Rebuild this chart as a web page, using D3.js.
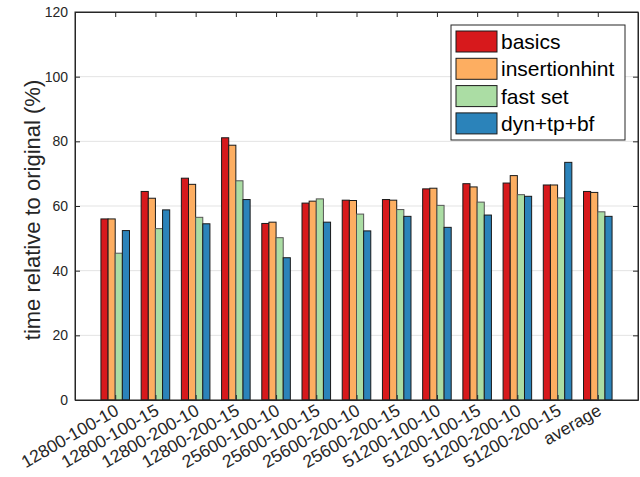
<!DOCTYPE html>
<html>
<head>
<meta charset="utf-8" />
<script src="https://d3js.org/d3.v7.min.js"></script>
<style>
  body { margin: 0; background: #fff; }
  text { font-family: "Liberation Sans", Arial, sans-serif; fill: #262626; }
</style>
</head>
<body>
<div id="chart"></div>
<script>
// categories and series values (time relative to original, %)
var categories = ["12800-100-10", "12800-100-15", "12800-200-10", "12800-200-15",
  "25600-100-10", "25600-100-15", "25600-200-10", "25600-200-15",
  "51200-100-10", "51200-100-15", "51200-200-10", "51200-200-15", "average"];
var seriesNames = ["basics", "insertionhint", "fast set", "dyn+tp+bf"];
var basics        = [56.0, 64.5, 68.6, 81.1, 54.6, 60.9, 61.8, 62.0, 65.3, 66.9, 67.1, 66.5, 64.5];
var insertionhint = [56.0, 62.4, 66.7, 78.8, 55.0, 61.5, 61.7, 61.8, 65.5, 65.9, 69.4, 66.5, 64.2];
var fastSet       = [45.4, 53.0, 56.5, 67.8, 50.2, 62.2, 57.5, 58.9, 60.2, 61.2, 63.5, 62.5, 58.2];
var dynTpBf       = [52.4, 58.8, 54.5, 62.0, 44.0, 55.0, 52.3, 56.8, 53.4, 57.2, 63.0, 73.5, 56.8];
var yTicks = [0, 20, 40, 60, 80, 100, 120];
var colors = ["#d7191c", "#fdae61", "#abdda4", "#2b83ba"];

var series = [basics, insertionhint, fastSet, dynTpBf];

var W = 640, H = 477;
var margin = {top: 12, right: 2, bottom: 77, left: 75};
var width = W - margin.left - margin.right,
    height = H - margin.top - margin.bottom;

var svg = d3.select("#chart").append("svg")
    .attr("width", W).attr("height", H);
var g = svg.append("g")
    .attr("transform", "translate(" + margin.left + "," + margin.top + ")");

// x in category units, like matlab (xlim 0..14)
var x = d3.scaleLinear().domain([0, categories.length + 1]).range([0, width]);
var y = d3.scaleLinear().domain([0, 120]).range([height, 0]);

// grid
g.selectAll(".grid").data(yTicks.slice(1, -1)).enter().append("line")
  .attr("x1", 0).attr("x2", width)
  .attr("y1", function(d) { return y(d); }).attr("y2", function(d) { return y(d); })
  .attr("stroke", "#e3e3e3").attr("stroke-width", 1);

// bars
var groupW = 0.71, barW = groupW / 4;
series.forEach(function(vals, s) {
  g.selectAll(".bar" + s).data(vals).enter().append("rect")
    .attr("x", function(d, i) { return x(i + 1 - groupW / 2 + s * barW); })
    .attr("y", function(d) { return y(d); })
    .attr("width", x(barW) - x(0))
    .attr("height", function(d) { return y(0) - y(d); })
    .attr("fill", colors[s])
    .attr("stroke", s == 2 ? "#555" : "#1a1a1a")
    .attr("stroke-width", 1);
});

// axes
var tickVals = categories.map(function(d, i) { return i + 1; });
var xAxis = g.append("g").attr("transform", "translate(0," + height + ")")
  .call(d3.axisBottom(x).tickValues(tickVals).tickSizeInner(-5).tickSizeOuter(0)
    .tickFormat(function(d) { return categories[d - 1]; }));
xAxis.selectAll("text")
  .style("font-size", "17.5px")
  .attr("text-anchor", "end")
  .attr("x", 0).attr("y", 0).attr("dy", "0.72em")
  .attr("transform", "translate(-2,3) rotate(-30)");

var yAxis = g.append("g")
  .call(d3.axisLeft(y).tickValues(yTicks).tickSizeInner(-5).tickSizeOuter(0).tickPadding(7));
yAxis.selectAll("text").style("font-size", "14px");

g.append("g")
  .call(d3.axisTop(x).tickValues(tickVals).tickSizeInner(-5).tickSizeOuter(0).tickFormat(""));
g.append("g").attr("transform", "translate(" + width + ",0)")
  .call(d3.axisRight(y).tickValues(yTicks).tickSizeInner(-5).tickSizeOuter(0).tickFormat(""));

g.selectAll(".domain").attr("stroke", "#262626");
g.selectAll(".tick line").attr("stroke", "#262626");

g.append("rect").attr("x", 0).attr("y", 0).attr("width", width).attr("height", height)
  .attr("fill", "none").attr("stroke", "#262626").attr("stroke-width", 1);

// y label
svg.append("text")
  .attr("transform", "translate(40,210) rotate(-90)")
  .attr("text-anchor", "middle")
  .style("font-size", "22px")
  .text("time relative to original (%)");

// legend
var legend = svg.append("g").attr("transform", "translate(451,25)");
legend.append("rect").attr("width", 174).attr("height", 115)
  .attr("fill", "#fff").attr("stroke", "#262626");
var items = legend.selectAll(".item").data(seriesNames).enter().append("g")
  .attr("transform", function(d, i) { return "translate(5," + (6 + i * 27.3) + ")"; });
items.append("rect").attr("width", 41).attr("height", 21)
  .attr("fill", function(d, i) { return colors[i]; })
  .attr("stroke", "#1a1a1a");
items.append("text").attr("x", 45).attr("y", 18)
  .style("font-size", "21px").style("fill", "#000")
  .text(function(d) { return d; });
</script>
</body>
</html>
